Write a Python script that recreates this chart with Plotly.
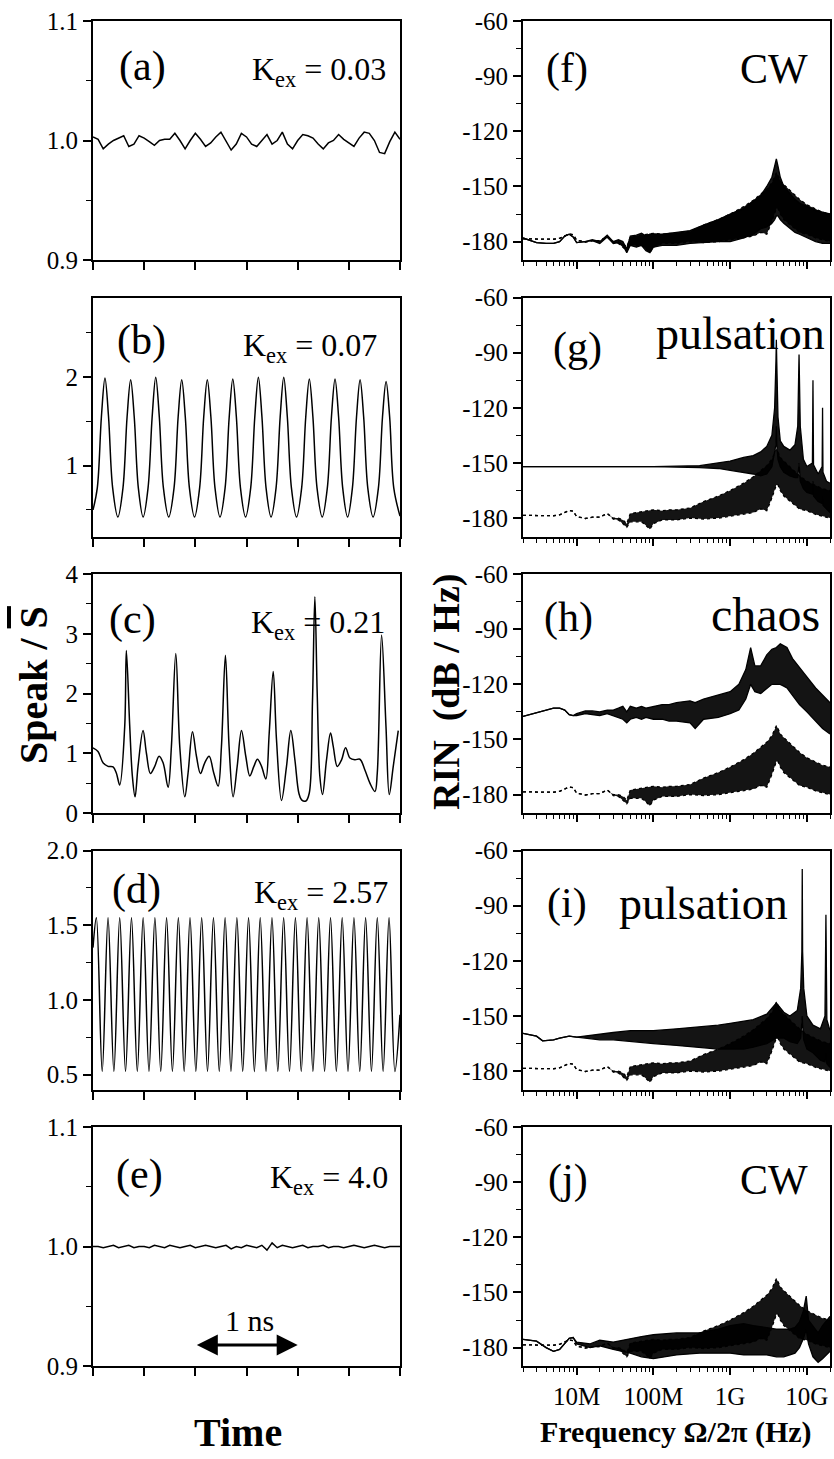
import math
import plotly.graph_objects as go

W, H = 834, 1459
FONT = "Liberation Serif"

# ---------------- time traces (ns, Speak / S-bar) ----------------
a_t = [0.00, 0.05, 0.10, 0.15, 0.20, 0.25, 0.30, 0.35, 0.40, 0.45,
       0.50, 0.55, 0.60, 0.65, 0.70, 0.75, 0.80, 0.85, 0.90, 0.95,
       1.00, 1.05, 1.10, 1.15, 1.20, 1.25, 1.30, 1.35, 1.40, 1.45,
       1.50, 1.55, 1.60, 1.65, 1.70, 1.75, 1.80, 1.85, 1.90, 1.95,
       2.00, 2.05, 2.10, 2.15, 2.20, 2.25, 2.30, 2.35, 2.40, 2.45,
       2.50, 2.55, 2.60, 2.65, 2.70, 2.75, 2.80, 2.85, 2.90, 2.95, 3.00]
a_S = [1.003, 1.001, 0.993, 0.997, 1.000, 1.002, 1.004, 0.995, 0.997, 1.004,
       1.002, 0.999, 0.996, 1.000, 1.001, 1.001, 1.006, 1.000, 0.993, 1.000,
       1.006, 1.001, 0.995, 0.998, 1.003, 1.007, 1.000, 0.992, 0.997, 1.006,
       1.003, 0.997, 0.995, 1.000, 1.005, 0.997, 1.000, 1.007, 0.997, 0.993,
       1.000, 1.005, 1.004, 1.002, 0.997, 0.993, 0.998, 1.000, 1.005, 1.001,
       0.998, 0.995, 1.002, 1.007, 1.006, 1.000, 0.990, 0.989, 0.999, 1.007, 1.001]

b_t = [0.000, 0.042, 0.082, 0.117, 0.152, 0.192, 0.243,
       0.293, 0.333, 0.368, 0.403, 0.443, 0.490,
       0.538, 0.578, 0.613, 0.648, 0.688, 0.740,
       0.792, 0.832, 0.867, 0.902, 0.942, 0.992,
       1.042, 1.082, 1.117, 1.152, 1.192, 1.241,
       1.291, 1.331, 1.366, 1.401, 1.441, 1.491,
       1.541, 1.581, 1.616, 1.651, 1.691, 1.740,
       1.789, 1.829, 1.864, 1.899, 1.939, 1.989,
       2.039, 2.079, 2.114, 2.149, 2.189, 2.240,
       2.290, 2.330, 2.365, 2.400, 2.440, 2.488,
       2.535, 2.575, 2.610, 2.645, 2.685, 2.737,
       2.789, 2.829, 2.864, 2.899, 2.939, 3.000]
b_S = [0.50, 0.75, 1.55, 1.99, 1.55, 0.75, 0.42,
       0.75, 1.55, 1.97, 1.55, 0.75, 0.42,
       0.75, 1.55, 2.00, 1.55, 0.75, 0.42,
       0.75, 1.55, 1.97, 1.55, 0.75, 0.42,
       0.75, 1.55, 1.97, 1.55, 0.75, 0.42,
       0.75, 1.55, 1.98, 1.55, 0.75, 0.42,
       0.75, 1.55, 2.00, 1.55, 0.75, 0.42,
       0.75, 1.55, 2.00, 1.55, 0.75, 0.42,
       0.75, 1.55, 1.98, 1.55, 0.75, 0.42,
       0.75, 1.55, 1.98, 1.55, 0.75, 0.42,
       0.75, 1.55, 1.97, 1.55, 0.75, 0.42,
       0.75, 1.55, 1.95, 1.55, 0.75, 0.43]

c_t = [0.000, 0.049, 0.098, 0.147, 0.196, 0.228, 0.261, 0.310, 0.326, 0.359,
       0.385, 0.411, 0.440, 0.489, 0.522, 0.561, 0.603, 0.646, 0.685, 0.734,
       0.766, 0.809, 0.848, 0.897, 0.929, 0.972, 1.011, 1.050, 1.092, 1.135,
       1.180, 1.223, 1.255, 1.294, 1.330, 1.369, 1.409, 1.451, 1.493, 1.532,
       1.572, 1.607, 1.647, 1.689, 1.722, 1.761, 1.793, 1.842, 1.891, 1.933,
       1.973, 2.012, 2.038, 2.080, 2.113, 2.145, 2.168, 2.191, 2.217, 2.243,
       2.282, 2.321, 2.348, 2.387, 2.429, 2.468, 2.511, 2.559, 2.608, 2.657,
       2.706, 2.755, 2.778, 2.820, 2.863, 2.895, 2.934, 2.983]
c_S = [1.09, 1.03, 0.84, 0.78, 0.77, 0.67, 0.47, 1.45, 2.72, 1.45,
       0.61, 0.27, 0.78, 1.38, 1.00, 0.66, 0.78, 0.95, 0.84, 0.43,
       1.11, 2.67, 1.11, 0.27, 0.67, 1.36, 0.95, 0.66, 0.84, 0.95,
       0.67, 0.45, 1.11, 2.64, 1.11, 0.27, 0.78, 1.38, 0.95, 0.62,
       0.78, 0.90, 0.78, 0.57, 1.34, 2.37, 1.23, 0.21, 0.78, 1.38,
       0.89, 0.33, 0.22, 0.20, 0.33, 1.89, 3.62, 2.00, 0.61, 0.31,
       0.89, 1.34, 1.11, 0.78, 0.89, 1.09, 0.92, 0.89, 0.90, 0.72,
       0.50, 0.36, 0.67, 2.98, 1.45, 0.31, 0.78, 1.38]

d_t = [0.000, 0.033, 0.090, 0.147, 0.204, 0.261, 0.318, 0.376, 0.433, 0.490,
       0.547, 0.605, 0.662, 0.719, 0.776, 0.834, 0.891, 0.948, 1.005, 1.062,
       1.119, 1.177, 1.234, 1.291, 1.348, 1.406, 1.463, 1.520, 1.577, 1.634,
       1.691, 1.749, 1.806, 1.863, 1.920, 1.978, 2.035, 2.092, 2.149, 2.206,
       2.263, 2.321, 2.378, 2.435, 2.492, 2.550, 2.607, 2.664, 2.721, 2.778,
       2.835, 2.893, 2.950, 3.000]
d_S = [1.35, 1.55, 0.52, 1.55, 0.52, 1.55, 0.52, 1.55, 0.52, 1.55,
       0.52, 1.55, 0.52, 1.55, 0.52, 1.55, 0.52, 1.55, 0.52, 1.55,
       0.52, 1.55, 0.52, 1.55, 0.52, 1.55, 0.52, 1.55, 0.52, 1.55,
       0.52, 1.55, 0.52, 1.55, 0.52, 1.55, 0.52, 1.55, 0.52, 1.55,
       0.52, 1.55, 0.52, 1.55, 0.52, 1.55, 0.52, 1.55, 0.52, 1.55,
       0.52, 1.55, 0.52, 0.90]

e_t = a_t
e_S = [1.000, 1.000, 0.999, 1.000, 1.001, 0.999, 1.000, 1.001, 0.999, 1.000,
       1.000, 0.999, 1.001, 1.000, 0.999, 1.001, 1.000, 0.999, 1.000, 1.001,
       0.999, 1.000, 1.001, 1.000, 0.999, 1.000, 1.001, 0.998, 1.000, 0.999,
       1.001, 1.000, 0.999, 1.001, 0.997, 1.003, 0.999, 1.001, 1.000, 0.999,
       1.000, 1.001, 0.999, 1.000, 1.000, 1.001, 0.999, 1.000, 1.000, 0.999,
       1.000, 1.001, 1.000, 0.999, 1.000, 1.001, 1.000, 0.999, 1.000, 1.000, 1.000]

# ---------------- RIN spectra (Hz, dB/Hz): upper / lower envelopes ----------------
sol_f = [2e6, 3e6, 4e6, 5e6, 6e6, 7e6, 8e6, 9e6, 1e7, 1.3e7, 1.6e7, 2e7, 2.5e7, 3e7, 3.5e7, 4e7,
         4.5e7, 5e7, 6e7, 7e7, 8e7, 9e7, 1e8, 1.3e8, 1.6e8, 2e8, 3e8, 4.5e8, 7e8, 1e9, 1.5e9, 2e9,
         2.5e9, 3e9, 3.5e9, 3.8e9, 4e9, 4.2e9, 4.5e9, 5e9, 6e9, 7e9, 8e9, 1e10, 1.3e10, 1.6e10, 2e10]
sol_hi = [-178.5, -178.7, -178.7, -178.7, -178.2, -176.8, -175.8, -176.2, -179.2, -180.2, -179.5,
          -179.5, -177.5, -180, -180, -181, -183, -177.5, -177, -176.5, -176, -175.5, -175.5, -176,
          -175.5, -175.5, -174.5, -171, -168, -165, -161, -157.5, -154, -151.5, -148, -144, -142.5,
          -144, -147, -149, -152, -155, -157, -160, -162, -164, -165]
sol_lo = [-178.5, -178.7, -178.7, -178.7, -178.2, -176.8, -175.8, -176.2, -179.2, -180.2, -179.5,
          -179.5, -177.5, -180.5, -181, -183, -185, -182, -182, -182, -184, -186, -183, -181, -181,
          -181, -180, -180.5, -180, -179, -178, -177, -175, -176, -169, -165, -162, -162, -165,
          -168, -171, -173, -175, -176, -178, -179, -180]

f_f = sol_f
f_hi = [-178, -180.5, -181, -181, -180, -177, -176, -177.5, -180.5, -180, -179, -180, -176.5, -180,
        -179, -180, -184, -177, -176.5, -175.5, -177, -176, -176, -176, -175.5, -175, -174, -171,
        -168, -165, -162, -158, -155, -150, -145, -139, -135, -139, -145, -150, -154, -157, -159,
        -161, -163, -164, -165]
f_lo = [-178, -180.5, -181, -181, -180, -177, -176, -177.5, -180.5, -180, -179.5, -181, -177.5, -181,
        -180.5, -182, -186, -182, -183, -182, -185, -186, -183, -182, -182, -182, -181, -180.5,
        -180, -180, -178, -176, -173, -172, -170, -168, -166, -166, -168, -170, -173, -175, -176,
        -178, -180, -181, -181]

g_f = [2e6, 1e7, 1e8, 4e8, 7e8, 1e9, 1.5e9, 2e9, 2.5e9, 3e9, 3.5e9, 3.8e9, 3.95e9, 4e9, 4.05e9,
       4.2e9, 4.5e9, 5e9, 6e9, 7e9, 7.6e9, 7.9e9, 8.2e9, 9e9, 1e10, 1.18e10, 1.2e10, 1.22e10,
       1.4e10, 1.58e10, 1.6e10, 1.62e10, 1.8e10, 2e10]
g_hi = [-152, -152, -152, -151.5, -150, -149, -147, -146, -144, -141, -135, -120, -95, -83, -95,
        -125, -138, -141, -143, -140, -130, -91, -130, -148, -152, -150, -105, -151,
        -156, -152, -120, -155, -160, -161]
g_lo = [-152, -152, -152, -152.5, -153, -154, -155, -156, -157, -156, -152, -145, -140, -130, -140,
        -148, -152, -155, -157, -158, -158, -150, -160, -164, -166, -167, -160, -168,
        -171, -172, -168, -173, -175, -177]

h_f = [2e6, 3e6, 4e6, 5e6, 6e6, 7e6, 8e6, 9e6, 1e7, 1.3e7, 1.6e7, 2e7, 2.5e7, 3e7, 3.5e7, 4e7,
       4.5e7, 5e7, 6e7, 7e7, 8e7, 1e8, 1.3e8, 1.6e8, 2e8, 3e8, 3.5e8, 4.5e8, 7e8, 1e9, 1.3e9,
       1.6e9, 1.85e9, 2.1e9, 2.5e9, 3e9, 3.5e9, 4e9, 4.5e9, 5e9, 5.5e9, 6.5e9, 8e9, 1e10, 1.3e10,
       1.6e10, 2e10]
h_hi = [-137.5, -135.5, -134, -133, -133, -134, -136.5, -137, -136, -134.5, -134.5, -135, -134,
        -134, -133, -132, -135, -132, -133, -132, -133, -132, -131, -131, -130, -129, -130, -128,
        -126, -124, -120, -112, -100, -110, -110, -104, -101, -100, -98, -99, -100, -106, -111,
        -116, -122, -126, -130]
h_lo = [-137.5, -135.5, -134, -133, -133, -134, -136.5, -137, -137, -136, -136.5, -137, -136,
        -137, -138, -139, -141, -139, -138, -139, -138, -139, -139, -140, -140, -141, -144, -139,
        -138, -136, -134, -128, -120, -124, -125, -122, -120, -120, -120, -121, -122, -126, -131,
        -135, -140, -144, -147]

i_f = [2e6, 3e6, 3.6e6, 5e6, 6e6, 8e6, 1e7, 1.5e7, 2e7, 3e7, 5e7, 1e8, 2e8, 4e8, 7e8, 1e9, 1.5e9,
       2e9, 3e9, 4e9, 5e9, 6e9, 7.5e9, 8.3e9, 8.6e9, 8.7e9, 8.8e9, 9.1e9, 1e10, 1.2e10, 1.5e10,
       1.72e10, 1.77e10, 1.82e10, 2e10]
i_hi = [-159.5, -161, -163.5, -163, -162, -161, -161.5, -160.5, -160, -159, -158, -158, -157, -156,
        -155, -154, -153, -152, -149, -143, -148, -150, -147, -135, -115, -70, -115, -135, -150,
        -155, -157, -150, -95, -152, -158]
i_lo = [-159.5, -161, -163.5, -163, -162, -161, -161.5, -162.5, -163, -163, -164, -165, -166, -167,
        -168, -168, -168, -167, -165, -162, -162, -164, -165, -162, -155, -150, -155, -163, -168,
        -170, -174, -175, -170, -176, -178]

j_f = [2e6, 3e6, 4e6, 5e6, 6e6, 7e6, 8e6, 9e6, 1e7, 1.5e7, 2e7, 3e7, 5e7, 7e7, 1e8, 2e8, 4e8, 7e8,
       1e9, 1.5e9, 2e9, 3e9, 4e9, 5e9, 6e9, 7e9, 8e9, 9e9, 9.8e9, 1.05e10, 1.2e10, 1.4e10, 1.6e10, 2e10]
j_hi = [-175.5, -176.5, -180, -182, -181, -178, -175, -174.5, -177, -178, -176, -177, -175, -174,
        -173, -172, -172, -170, -168, -167, -168, -169, -170, -170, -170, -169, -166, -160, -152,
        -165, -168, -172, -168, -163]
j_lo = [-175.5, -176.5, -180, -182, -181, -178, -175, -174.5, -178, -180, -179, -181, -183, -185,
        -186, -184, -183, -183, -183, -184, -184, -184, -185, -185, -184, -183, -180, -175, -170,
        -178, -185, -188, -186, -182]

# ---------------- labels ----------------
panel_labels = ["(a)", "(b)", "(c)", "(d)", "(e)", "(f)", "(g)", "(h)", "(i)", "(j)"]
kex_values = ["0.03", "0.07", "0.21", "2.57", "4.0"]
regime_labels = ["CW", "pulsation", "chaos", "pulsation", "CW"]
freq_tickvals = [1e7, 1e8, 1e9, 1e10]
freq_ticktext = ["10M", "100M", "1G", "10G"]

# ---------------- figure ----------------
fig = go.Figure()

LX = [93 / W, 400 / W]
RX = [523 / W, 830 / W]
TOPS = [21, 297.5, 574, 850.5, 1127]
PH = 239


def ydom(r):
    return [1 - (TOPS[r] + PH) / H, 1 - TOPS[r] / H]


def xid(i):
    return "x" if i == 1 else f"x{i}"


def yid(i):
    return "y" if i == 1 else f"y{i}"


def xkey(i):
    return "xaxis" if i == 1 else f"xaxis{i}"


def ykey(i):
    return "yaxis" if i == 1 else f"yaxis{i}"


tickfont = dict(family=FONT, size=25, color="black")

left_y = [
    dict(range=[0.9, 1.1], tickvals=[0.9, 1.0, 1.1], ticktext=["0.9", "1.0", "1.1"], minor=[0.95, 1.05]),
    dict(range=[0.2, 2.9], tickvals=[1, 2], ticktext=["1", "2"], minor=[0.5, 1.5, 2.5]),
    dict(range=[0, 4], tickvals=[0, 1, 2, 3, 4], ticktext=["0", "1", "2", "3", "4"], minor=[0.5, 1.5, 2.5, 3.5]),
    dict(range=[0.4, 2.0], tickvals=[0.5, 1.0, 1.5, 2.0], ticktext=["0.5", "1.0", "1.5", "2.0"], minor=[0.75, 1.25, 1.75]),
    dict(range=[0.9, 1.1], tickvals=[0.9, 1.0, 1.1], ticktext=["0.9", "1.0", "1.1"], minor=[0.95, 1.05]),
]
rin_y = dict(range=[-190, -60], tickvals=[-60, -90, -120, -150, -180],
             ticktext=["-60", "-90", "-120", "-150", "-180"], minor=[-75, -105, -135, -165])
time_ticks = [0, 0.5, 1.0, 1.5, 2.0, 2.5, 3.0]
log_minor = [m * 10 ** e for e in range(6, 11) for m in range(2, 10) if 2e6 <= m * 10 ** e <= 2e10]
log_range = [math.log10(2e6), math.log10(2e10)]

layout_axes = {}
for i in range(1, 11):
    left = i <= 5
    r = (i - 1) % 5
    common = dict(showgrid=False, zeroline=False, tickfont=tickfont, tickcolor="black", fixedrange=True,
                  automargin=False)
    if left:
        xcfg = dict(range=[0, 3], tickmode="array", tickvals=time_ticks, showticklabels=False, ticklen=8, tickwidth=1.5)
        ycfg = left_y[r]
    else:
        xcfg = dict(type="log", range=log_range, tickmode="array", tickvals=freq_tickvals,
                    ticktext=freq_ticktext, showticklabels=(i == 10), ticklen=7, tickwidth=1.5)
        ycfg = rin_y
    ylen, yminlen = 8, 5
    xminor_vals = log_minor if not left else None

    xa = dict(common, domain=LX if left else RX, anchor=yid(i), showline=True, linecolor="black",
              linewidth=2, mirror=True, ticks="outside", **xcfg)
    if xminor_vals:
        xa["minor"] = dict(tickmode="array", tickvals=xminor_vals, ticks="outside", ticklen=4,
                           tickcolor="black", tickwidth=1)
    layout_axes[xkey(i)] = xa
    ya = dict(common, domain=ydom(r), anchor=xid(i), showline=True, linecolor="black", linewidth=2,
              mirror=True, ticks="outside", ticklen=ylen, tickwidth=1.5, range=ycfg["range"],
              tickmode="array", tickvals=ycfg["tickvals"], ticktext=ycfg["ticktext"],
              minor=dict(tickmode="array", tickvals=ycfg["minor"], ticks="outside", ticklen=yminlen,
                         tickcolor="black", tickwidth=1))
    layout_axes[ykey(i)] = ya
    xt = dict(common, overlaying=xid(i), anchor=yid(i), side="top", showline=False, ticks="inside",
              showticklabels=False, **{k: v for k, v in xcfg.items() if k not in ("showticklabels", "ticktext")})
    if xminor_vals:
        xt["minor"] = dict(tickmode="array", tickvals=xminor_vals, ticks="inside", ticklen=4,
                           tickcolor="black", tickwidth=1)
    layout_axes[xkey(i + 10)] = xt
    yr = dict(common, overlaying=yid(i), anchor=xid(i), side="right", showline=False, ticks="inside",
              showticklabels=False, ticklen=ylen, tickwidth=1.5, range=ycfg["range"], tickmode="array",
              tickvals=ycfg["tickvals"],
              minor=dict(tickmode="array", tickvals=ycfg["minor"], ticks="inside", ticklen=yminlen,
                         tickcolor="black", tickwidth=1))
    layout_axes[ykey(i + 10)] = yr

# ---- time traces ----
time_series = [(a_t, a_S, "linear"), (b_t, b_S, "spline"), (c_t, c_S, "spline"),
               (d_t, d_S, "spline"), (e_t, e_S, "linear")]
for k, (tt, ss, shp) in enumerate(time_series):
    i = k + 1
    fig.add_trace(go.Scatter(x=tt, y=ss, mode="lines", line=dict(color="black", width=1.5, shape=shp),
                             xaxis=xid(i), yaxis=yid(i), showlegend=False, hoverinfo="skip"))


def band(f, lo, hi, i, dash=None, width=1.2):
    fig.add_trace(go.Scatter(x=f, y=lo, mode="lines", line=dict(color="black", width=width, dash=dash),
                             xaxis=xid(i), yaxis=yid(i), showlegend=False, hoverinfo="skip"))
    fig.add_trace(go.Scatter(x=f, y=hi, mode="lines", line=dict(color="black", width=width, dash=dash),
                             fill="tonexty", fillcolor="rgba(0,0,0,0.92)",
                             xaxis=xid(i), yaxis=yid(i), showlegend=False, hoverinfo="skip"))


spectra = [(f_f, f_lo, f_hi), (g_f, g_lo, g_hi), (h_f, h_lo, h_hi), (i_f, i_lo, i_hi), (j_f, j_lo, j_hi)]
for k, (ff, lo, hi) in enumerate(spectra):
    i = k + 6
    if k == 0:
        band(sol_f, sol_lo, sol_hi, i, dash="dot", width=1.3)
        band(ff, lo, hi, i, width=1.3)
    else:
        band(ff, lo, hi, i, width=1.3)
        band(sol_f, sol_lo, sol_hi, i, dash="dot", width=1.3)

# ---------------- annotations ----------------
ann = []


def dom_text(i, x, y, text, size, xanchor="center", yanchor="middle"):
    ann.append(dict(xref=f"{xid(i)} domain", yref=f"{yid(i)} domain", x=x, y=y, text=text,
                    showarrow=False, xanchor=xanchor, yanchor=yanchor,
                    font=dict(family=FONT, size=size, color="black")))


lab_pos_left = [(0.16, 0.81), (0.157, 0.82), (0.13, 0.81), (0.143, 0.835), (0.153, 0.80)]
kex_pos = [(0.96, 0.81), (0.93, 0.81), (0.957, 0.81), (0.967, 0.835), (0.967, 0.80)]
for k in range(5):
    i = k + 1
    dom_text(i, lab_pos_left[k][0], lab_pos_left[k][1], panel_labels[k], 42)
    dom_text(i, kex_pos[k][0], kex_pos[k][1] - 0.02, f"K<sub>ex</sub> = {kex_values[k]}", 32, xanchor="right")

lab_pos_right = [(0.143, 0.80), (0.176, 0.79), (0.147, 0.82), (0.143, 0.78), (0.147, 0.78)]
reg_pos = [(0.935, 0.80, "right", 42), (0.99, 0.85, "right", 46), (0.975, 0.83, "right", 48),
           (0.306, 0.78, "left", 46), (0.935, 0.78, "right", 42)]
for k in range(5):
    i = k + 6
    dom_text(i, lab_pos_right[k][0], lab_pos_right[k][1], panel_labels[k + 5], 42)
    dom_text(i, reg_pos[k][0], reg_pos[k][1], regime_labels[k], reg_pos[k][3], xanchor=reg_pos[k][2])


def paper_text(x, y, text, size, angle=0):
    ann.append(dict(xref="paper", yref="paper", x=x / W, y=1 - y / H, text=text, textangle=angle,
                    showarrow=False, xanchor="center", yanchor="middle",
                    font=dict(family=FONT, size=size, color="black")))


paper_text(33, 685, "<b>Speak / <span style='text-decoration:overline'>S</span></b>", 40, -90)
paper_text(446, 692, "<b>RIN  (dB / Hz)</b>", 38, -90)
paper_text(238, 1432, "<b>Time</b>", 40)
paper_text(676, 1432, "<b>Frequency \u03a9/2\u03c0 (Hz)</b>", 30)

# 1 ns scale arrow in panel (e)
ann.append(dict(xref="x5", yref="y5", x=2.0, y=0.9176, axref="x5", ayref="y5", ax=1.0, ay=0.9176,
                showarrow=True, arrowhead=2, startarrowhead=2, arrowside="end+start", arrowsize=1.4,
                startarrowsize=1.4, arrowwidth=3, arrowcolor="black", text=""))
ann.append(dict(xref="x5", yref="y5", x=1.53, y=0.938, text="1 ns", showarrow=False,
                xanchor="center", yanchor="middle", font=dict(family=FONT, size=30, color="black")))

fig.update_layout(width=W, height=H, margin=dict(l=0, r=0, t=0, b=0, pad=0, autoexpand=False),
                  showlegend=False, plot_bgcolor="white", paper_bgcolor="white",
                  font=dict(family=FONT, color="black"), annotations=ann, **layout_axes)

POST = ("document.body.style.margin='0';document.documentElement.style.overflow='hidden';"
        "document.body.style.overflow='hidden';")

fig.write_html("out.html", config={"displayModeBar": False}, post_script=POST)
